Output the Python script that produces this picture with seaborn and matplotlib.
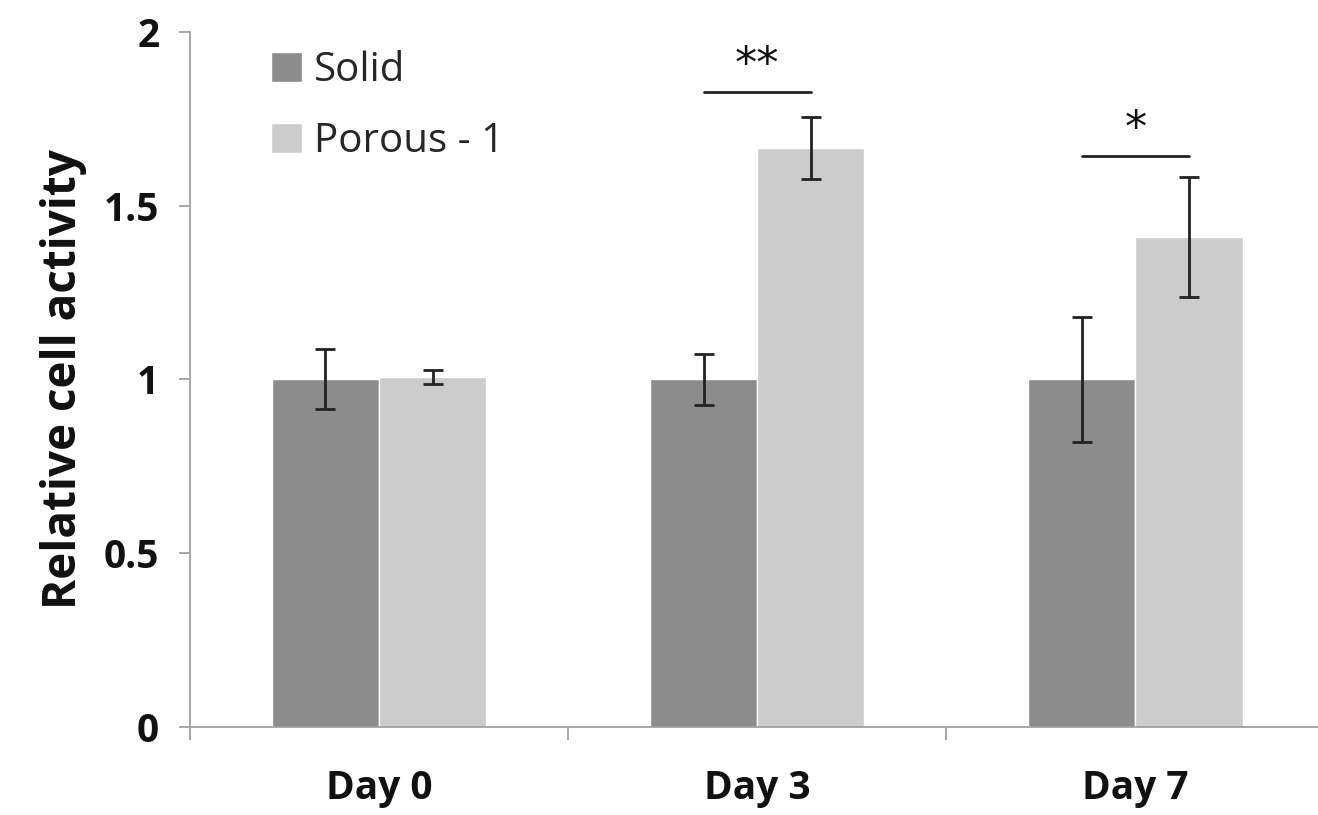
import matplotlib.pyplot as plt
import seaborn as sns
import pandas as pd

days = ["Day 0", "Day 3", "Day 7"]
groups = ["Solid", "Porous - 1"]
solid_mean = [1.0, 1.0, 1.0]
solid_err = [0.086, 0.074, 0.18]
porous_mean = [1.007, 1.666, 1.41]
porous_err = [0.02, 0.09, 0.173]

# significance marks: day index, bar height, label
sig_day = [1, 2]
sig_y = [1.827, 1.643]
sig_text = ["**", "*"]

data = pd.DataFrame({
    "day": days * 2,
    "group": [groups[0]] * 3 + [groups[1]] * 3,
    "value": solid_mean + porous_mean,
    "err": solid_err + porous_err,
})

sns.set_theme(style="white")
plt.rcParams["font.family"] = ["Open Sans", "DejaVu Sans"]

fig = plt.figure(figsize=(13.18, 8.15), dpi=100)
ax = fig.add_axes([0.144, 0.108, 0.861, 0.853])

sns.barplot(
    data=data, x="day", y="value", hue="group",
    palette=["#8c8c8c", "#cccccc"], width=0.567,
    saturation=1, errorbar=None, ax=ax,
)

# error bars on top of the bar centres
bars = [p for p in ax.patches if p.get_height() > 0][:6]
for bar, err in zip(bars, data["err"]):
    xc = bar.get_x() + bar.get_width() / 2
    ax.errorbar(xc, bar.get_height(), yerr=err, fmt="none",
                ecolor="#222222", elinewidth=2, capsize=7, capthick=2)

for d, y, t in zip(sig_day, sig_y, sig_text):
    b1, b2 = bars[d], bars[d + 3]
    x1 = b1.get_x() + b1.get_width() / 2
    x2 = b2.get_x() + b2.get_width() / 2
    ax.plot([x1, x2], [y, y], color="#222222", lw=2)
    ax.text((x1 + x2) / 2, y + 0.015, t, ha="center", va="bottom",
            fontsize=32, color="#111111", family="DejaVu Sans")

ax.set_ylim(0, 2)
ax.set_xlim(-0.5, 2.5)
ax.set_yticks([0, 0.5, 1, 1.5, 2])
ax.set_yticklabels(["0", "0.5", "1", "1.5", "2"])
ax.set_xticks([-0.5, 0.5, 1.5, 2.5], minor=True)
ax.tick_params(axis="x", which="major", bottom=False, length=0, pad=30)
ax.tick_params(axis="x", which="minor", bottom=True, length=9,
               color="#a0a0a0", width=1.3)
ax.tick_params(axis="y", left=True, length=8, color="#a0a0a0", width=1.3,
               pad=14)
for lab in ax.get_xticklabels() + ax.get_yticklabels():
    lab.set_fontweight("bold")
    lab.set_fontsize(28)
    lab.set_color("#111111")

ax.set_xlabel("")
ax.set_ylabel("Relative cell activity", fontsize=33, fontweight="bold",
              color="#111111", labelpad=12)

for side in ["top", "right"]:
    ax.spines[side].set_visible(False)
for side in ["left", "bottom"]:
    ax.spines[side].set_color("#a0a0a0")
    ax.spines[side].set_linewidth(1.3)

ax.legend(loc="upper left", bbox_to_anchor=(0.04, 1.025), frameon=False,
          fontsize=29, handlelength=0.75, handleheight=0.75,
          handletextpad=0.3, labelspacing=0.75)

fig.savefig("out.png", dpi=100)
